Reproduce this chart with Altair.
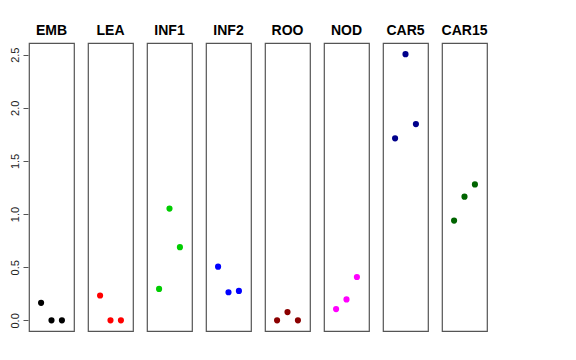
import altair as alt
import pandas as pd

panels = ["EMB", "LEA", "INF1", "INF2", "ROO", "NOD", "CAR5", "CAR15"]
colors = ["#000000", "#FF0000", "#00CD00", "#0000FF", "#8B0000", "#FF00FF", "#00008B", "#006400"]
positions = [1, 2, 3]
values = {
    "EMB": [0.165, 0.0, 0.0],
    "LEA": [0.234, 0.0, 0.0],
    "INF1": [0.296, 1.052, 0.689],
    "INF2": [0.505, 0.265, 0.277],
    "ROO": [0.0, 0.078, 0.0],
    "NOD": [0.106, 0.197, 0.408],
    "CAR5": [1.713, 2.505, 1.847],
    "CAR15": [0.939, 1.164, 1.279],
}
y_ticks = [0.0, 0.5, 1.0, 1.5, 2.0, 2.5]

rows = []
for p in panels:
    for x, v in zip(positions, values[p]):
        rows.append({"panel": p, "pos": x, "value": v})
df = pd.DataFrame(rows)

chart = alt.Chart(df).mark_circle(size=38, opacity=1).encode(
    x=alt.X("pos:Q", scale=alt.Scale(domain=[-0.16, 4.16], nice=False, zero=False), axis=None),
    y=alt.Y(
        "value:Q",
        scale=alt.Scale(domain=[-0.1, 2.61], nice=False, zero=False),
        axis=alt.Axis(
            values=y_ticks, format=".1f", title=None, grid=False, domain=False,
            tickSize=5, tickColor="#555555", labelAngle=-90, labelFontSize=11,
            labelColor="#222222", labelPadding=3, labelFont="Liberation Sans",
            minExtent=0,
        ),
    ),
    color=alt.Color("panel:N", scale=alt.Scale(domain=panels, range=colors), legend=None),
).properties(width=45, height=288).facet(
    column=alt.Column(
        "panel:N", sort=panels, title=None,
        header=alt.Header(labelFontWeight="bold", labelFontSize=14, labelFont="Liberation Sans",
                          labelColor="#000000", labelPadding=4, labelOrient="top"),
    ),
    spacing=12,
).properties(
    padding={"left": 0, "top": 16, "right": 5, "bottom": 5}
).configure(
    background="white",
    view=alt.ViewConfig(stroke="#555555", strokeWidth=1.2),
)

chart.save("out.html", embed_options={"renderer": "svg", "actions": False})
